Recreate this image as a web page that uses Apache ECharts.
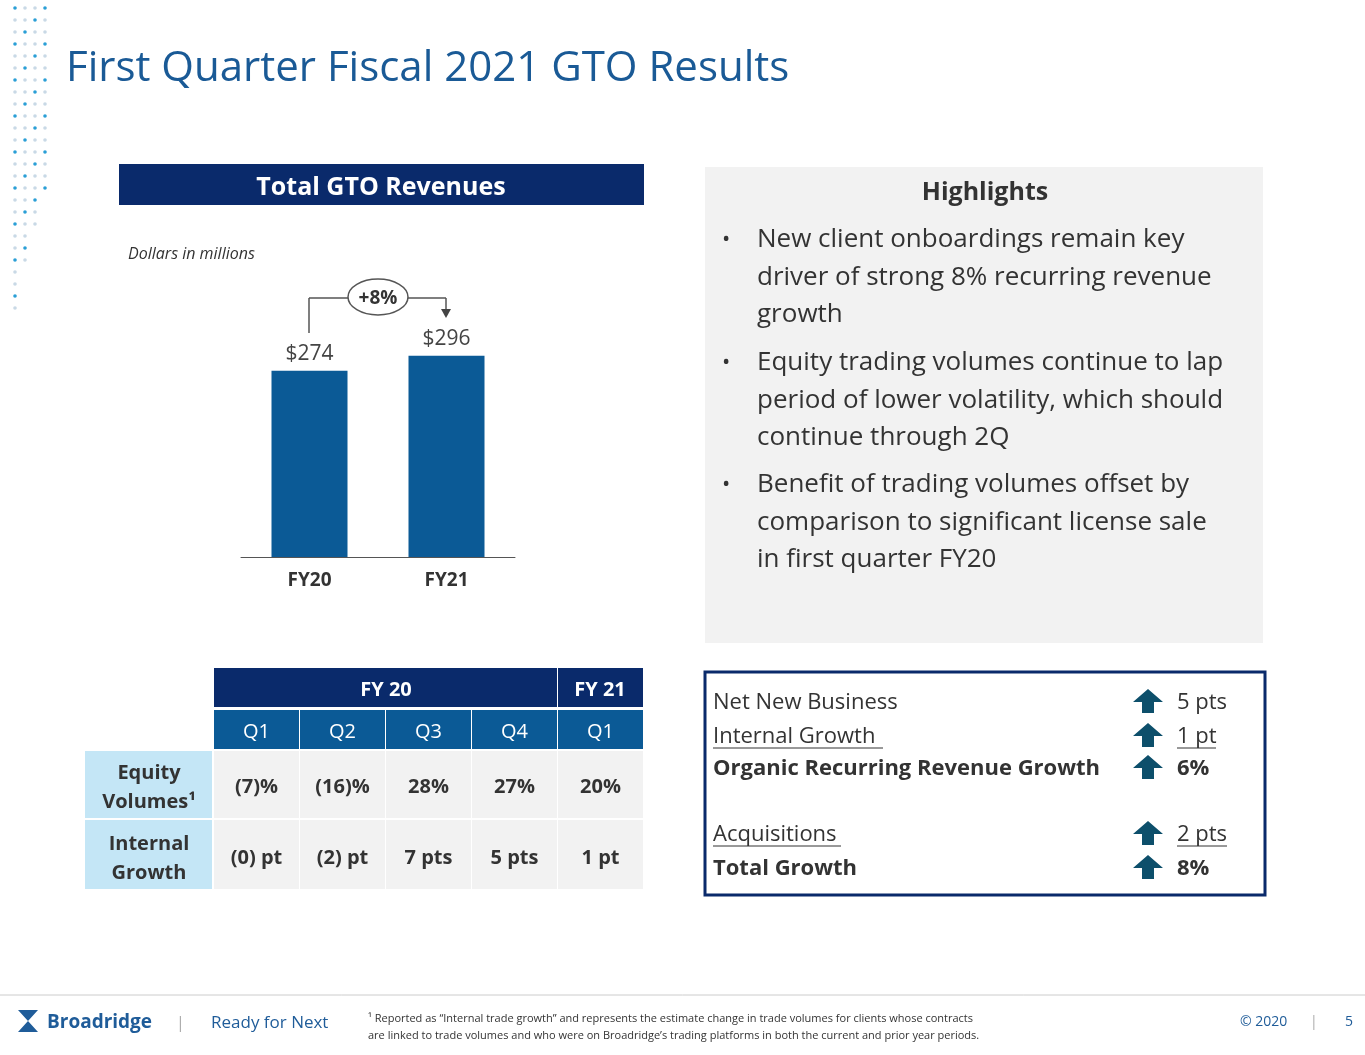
<!DOCTYPE html>
<html>
<head>
<meta charset="utf-8">
<script src="https://cdn.jsdelivr.net/npm/echarts@6/dist/echarts.min.js"></script>
<style>html,body{margin:0;padding:0;background:#fff}#main{width:1365px;height:1055px}</style>
</head>
<body>
<div id="main"></div>
<script>
// chart data
var categories = ['FY20', 'FY21'];
var revenues = [274, 296];
var quarters = ['Q1', 'Q2', 'Q3', 'Q4', 'Q1'];
var equityVolumes = ['(7)%', '(16)%', '28%', '27%', '20%'];
var internalGrowth = ['(0) pt', '(2) pt', '7 pts', '5 pts', '1 pt'];
var bridgeLabels = ['Net New Business', 'Internal Growth', 'Organic Recurring Revenue Growth', 'Acquisitions', 'Total Growth'];
var bridgeValues = ['5 pts', '1 pt', '6%', '2 pts', '8%'];
var highlights = [
  ['New client onboardings remain key', 'driver of strong 8% recurring revenue', 'growth'],
  ['Equity trading volumes continue to lap', 'period of lower volatility, which should', 'continue through 2Q'],
  ['Benefit of trading volumes offset by', 'comparison to significant license sale', 'in first quarter FY20']
];

window.onload = function () {
  var myChart = echarts.init(document.getElementById('main'));
  var navy = '#0a2a6b', mid = '#0b5a96', font = 'Open Sans';
  var g = [];
  function txt(x, y, t, o) {
    o = o || {};
    g.push({type: 'text', x: x, y: y + 2, z: 10, style: {
      text: t, font: (o.i ? 'italic ' : '') + (o.w || 'normal') + ' ' + (o.s || 20) + 'px ' + font,
      fill: o.c || '#333', textAlign: o.a || 'left', textVerticalAlign: 'middle'}});
  }
  function rect(x, y, w, h, fill, o) {
    o = o || {};
    g.push({type: 'rect', z: 1, shape: {x: x, y: y, width: w, height: h},
      style: {fill: fill, stroke: o.stroke || null, lineWidth: o.lw || 0}});
  }
  function line(x1, y1, x2, y2, c, w) {
    g.push({type: 'line', z: 5, shape: {x1: x1, y1: y1, x2: x2, y2: y2}, style: {stroke: c, lineWidth: w || 1}});
  }

  // decorative dots
  for (var cx = 0; cx < 4; cx++) {
    for (var r = 0; r < 26; r++) {
      var xx = 15 + cx * 10, yy = 8 + r * 12;
      if (yy > 310 - cx * 40) continue;
      g.push({type: 'circle', shape: {cx: xx, cy: yy, r: 1.8},
        style: {fill: (cx + r) % 3 === 0 ? '#2a9fd6' : '#c9d9e6'}});
    }
  }

  txt(66, 67, 'First Quarter Fiscal 2021 GTO Results', {s: 42, c: '#1a5a96'});

  rect(119, 164, 525, 41, navy);
  txt(381, 186, 'Total GTO Revenues', {s: 25, w: 'bold', c: '#fff', a: 'center'});
  txt(128, 252, 'Dollars in millions', {s: 16, i: true});

  // growth annotation
  line(309, 333, 309, 298, '#555', 1.5);
  line(309, 298, 446, 298, '#555', 1.5);
  line(446, 298, 446, 312, '#555', 1.5);
  g.push({type: 'polygon', z: 5, shape: {points: [[441, 309], [451, 309], [446, 318]]}, style: {fill: '#444'}});
  g.push({type: 'ellipse', z: 6, shape: {cx: 378, cy: 297, rx: 30, ry: 18}, style: {fill: '#fff', stroke: '#555', lineWidth: 1.5}});
  txt(378, 297, '+8%', {s: 19, w: 'bold', a: 'center'});

  // highlights
  rect(705, 167, 558, 476, '#f2f2f2');
  txt(985, 191, 'Highlights', {s: 25, w: 'bold', a: 'center'});
  var ys = [238, 361, 483];
  highlights.forEach(function (b, i) {
    txt(722, ys[i], '•', {s: 22});
    b.forEach(function (l, j) { txt(757, ys[i] + j * 37.5, l, {s: 26}); });
  });

  // quarterly table
  var cols = [214, 300, 386, 472, 558], cw = 85;
  rect(214, 668, 343, 39, navy);
  rect(558, 668, 85, 39, navy);
  txt(386, 688, 'FY 20', {s: 20, w: 'bold', c: '#fff', a: 'center'});
  txt(600, 688, 'FY 21', {s: 20, w: 'bold', c: '#fff', a: 'center'});
  quarters.forEach(function (q, i) {
    rect(cols[i], 710, cw, 39, mid);
    txt(cols[i] + cw / 2, 730, q, {s: 20, c: '#fff', a: 'center'});
    rect(cols[i], 751, cw, 67, '#f2f2f2');
    txt(cols[i] + cw / 2, 785, equityVolumes[i], {s: 20, w: 'bold', a: 'center'});
    rect(cols[i], 820, cw, 69, '#f2f2f2');
    txt(cols[i] + cw / 2, 856, internalGrowth[i], {s: 20, w: 'bold', a: 'center'});
  });
  rect(85, 751, 127, 67, '#c4e6f6');
  rect(85, 820, 127, 69, '#c4e6f6');
  txt(149, 771, 'Equity', {s: 20, w: 'bold', a: 'center'});
  txt(149, 800, 'Volumes¹', {s: 20, w: 'bold', a: 'center'});
  txt(149, 842, 'Internal', {s: 20, w: 'bold', a: 'center'});
  txt(149, 871, 'Growth', {s: 20, w: 'bold', a: 'center'});

  // growth bridge box
  rect(705, 672, 560, 223, '#fff', {stroke: navy, lw: 3});
  var by = [701, 735, 767, 833, 867];
  var under = [false, true, false, true, false];
  var bold = [false, false, true, false, true];
  var ulw = [0, 174, 0, 132, 0], vlw = [0, 43, 0, 54, 0];
  bridgeLabels.forEach(function (l, i) {
    txt(713, by[i], l, {s: 22, w: bold[i] ? 'bold' : 'normal'});
    txt(1177, by[i], bridgeValues[i], {s: 22, w: bold[i] ? 'bold' : 'normal'});
    if (under[i]) {
      line(713, by[i] + 13, 713 + ulw[i] - 4, by[i] + 13, '#333', 1);
      line(1177, by[i] + 13, 1177 + vlw[i] - 4, by[i] + 13, '#333', 1);
    }
    var ax = 1148, ay = by[i];
    g.push({type: 'polygon', z: 5, shape: {points: [[ax, ay - 12], [ax + 15, ay + 1], [ax + 6, ay + 1], [ax + 6, ay + 12],
      [ax - 6, ay + 12], [ax - 6, ay + 1], [ax - 15, ay + 1]]}, style: {fill: '#0d4f6b'}});
  });

  // footer
  line(0, 995, 1365, 995, '#ccc', 1);
  g.push({type: 'polygon', shape: {points: [[18, 1010], [38, 1010], [28, 1021], [38, 1032], [18, 1032], [28, 1021]]}, style: {fill: '#1f5c99'}});
  txt(47, 1021, 'Broadridge', {s: 19, w: 'bold', c: '#1f5c99'});
  txt(176, 1021, '|', {s: 16, c: '#aaa'});
  txt(211, 1021, 'Ready for Next', {s: 17, c: '#1f5c99'});
  txt(368, 1017, '¹ Reported as “Internal trade growth” and represents the estimate change in trade volumes for clients whose contracts', {s: 11});
  txt(368, 1034, 'are linked to trade volumes and who were on Broadridge’s trading platforms in both the current and prior year periods.', {s: 11});
  txt(1240, 1020, '© 2020', {s: 14, c: '#1f5c99'});
  txt(1310, 1020, '|', {s: 14, c: '#aaa'});
  txt(1345, 1020, '5', {s: 14, c: '#1f5c99'});

  var option = {
    animation: false,
    grid: {left: 241, top: 285, width: 274, height: 272},
    xAxis: {
      type: 'category', data: categories,
      axisTick: {show: false},
      axisLine: {lineStyle: {color: '#555', width: 1}},
      axisLabel: {fontSize: 19, fontWeight: 'bold', color: '#333', margin: 14, fontFamily: font}
    },
    yAxis: {type: 'value', min: 0, max: 400, show: false},
    series: [{
      type: 'bar', data: revenues, barWidth: 76,
      itemStyle: {color: '#0b5a96'},
      label: {show: true, position: 'top', distance: 6, formatter: '${c}', fontSize: 21, color: '#444', fontFamily: font}
    }],
    graphic: g
  };
  myChart.setOption(option);
};
</script>
</body>
</html>
